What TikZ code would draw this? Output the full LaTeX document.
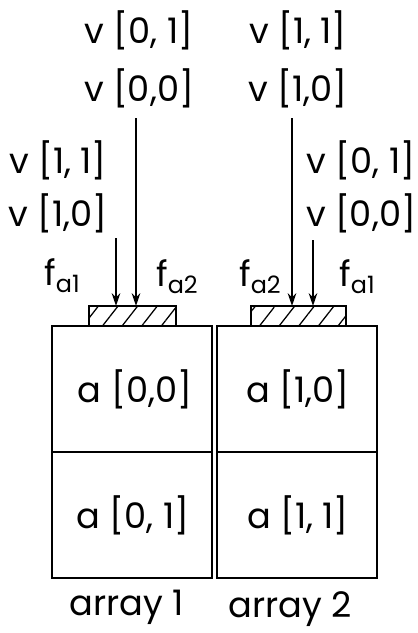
\documentclass[tikz,border=0pt]{standalone}
\usepackage{fontspec}
\setmainfont{Poppins}
\usepackage{tikz}
\usetikzlibrary{arrows.meta, positioning, calc, patterns.meta}
\tikzset{
  cell/.style={rectangle, draw, line width=1.2pt, minimum width=4cm,
    minimum height=3.15cm, outer sep=0pt, inner sep=0pt},
  pad/.style={rectangle, draw, line width=1.2pt, minimum height=0.5cm,
    outer sep=0pt, inner sep=0pt,
    pattern={Lines[angle=52, distance=11pt, line width=0.9pt]}},
  lbl/.style={inner sep=1pt, font=\fontsize{25}{28}\selectfont},
  arrow/.style={-{Stealth[length=9pt, width=6pt]}, line width=1.2pt}
}
\newcommand{\fsub}[1]{f\raisebox{-0.35ex}{\fontsize{17}{20}\selectfont #1}}

\begin{document}
\begin{tikzpicture}[x=0.025cm, y=-0.025cm]
  \useasboundingbox (0,0) rectangle (418,633);

  % memory cells
  \node[cell] (a00) at (132,389) {};
  \node[cell, below=0pt of a00] (a01) {};
  \node[cell] (a10) at (297,389) {};
  \node[cell, below=0pt of a10] (a11) {};
  \node[lbl] at ($(a00.center)+(3,0)$) {a [0,0]};
  \node[lbl] at ($(a01.center)+(1,0)$) {a [0, 1]};
  \node[lbl] at ($(a10.center)+(1,0)$) {a [1,0]};
  \node[lbl] at ($(a11.center)+(1,0)$) {a [1, 1]};

  % fetch pads
  \node[pad, minimum width=2.175cm, anchor=south] (pad1) at ($(a00.north)+(0.5,0)$) {};
  \node[pad, minimum width=2.375cm, anchor=south] (pad2) at ($(a10.north)+(1.5,0)$) {};

  % incoming words
  \node[lbl] (t1a) at (139,30) {v [0, 1]};
  \node[lbl] (t1b) at (139,88) {v [0,0]};
  \node[lbl] (t2a) at (298,30) {v [1, 1]};
  \node[lbl] (t2b) at (298,88) {v [1,0]};
  \node[lbl] (l1a) at (58,160) {v [1, 1]};
  \node[lbl] (l1b) at (58,213) {v [1,0]};
  \node[lbl] (r2a) at (361,160) {v [0, 1]};
  \node[lbl] (r2b) at (361,213) {v [0,0]};

  \coordinate (s1) at (116,238);
  \coordinate (s2) at (136,118);
  \coordinate (s3) at (292,118);
  \coordinate (s4) at (313,240);
  \draw[arrow] (s1) -- (s1 |- pad1.north);
  \draw[arrow] (s2) -- (s2 |- pad1.north);
  \draw[arrow] (s3) -- (s3 |- pad2.north);
  \draw[arrow] (s4) -- (s4 |- pad2.north);

  \node[lbl] (fa1l) at (62,276) {\fsub{a1}};
  \node[lbl] (fa2l) at (177,277) {\fsub{a2}};
  \node[lbl] (fa2r) at (260,277) {\fsub{a2}};
  \node[lbl] (fa1r) at (357,277) {\fsub{a1}};

  % array names
  \node[lbl] (arr1) at (127,607) {array 1};
  \node[lbl] (arr2) at (290,609) {array 2};
\end{tikzpicture}
\end{document}
